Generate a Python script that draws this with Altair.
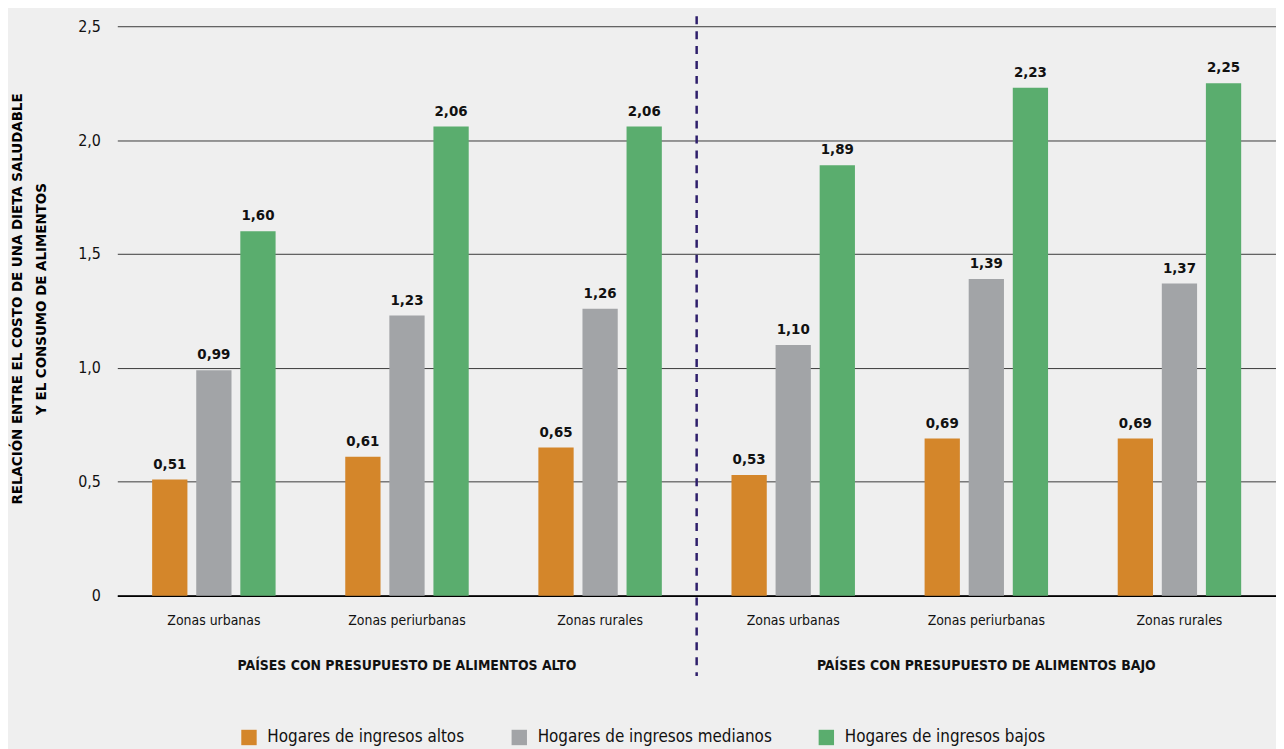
import altair as alt
import pandas as pd

zonas = ["Zonas urbanas", "Zonas periurbanas", "Zonas rurales"]
grupos = ["PAÍSES CON PRESUPUESTO DE ALIMENTOS ALTO", "PAÍSES CON PRESUPUESTO DE ALIMENTOS BAJO"]
series = ["Hogares de ingresos altos", "Hogares de ingresos medianos", "Hogares de ingresos bajos"]
altos = [0.51, 0.61, 0.65, 0.53, 0.69, 0.69]
medianos = [0.99, 1.23, 1.26, 1.10, 1.39, 1.37]
bajos = [1.60, 2.06, 2.06, 1.89, 2.23, 2.25]
colores = ["#d4862a", "#a2a4a7", "#5aad6e"]
y_ticks = [0, 0.5, 1.0, 1.5, 2.0, 2.5]
y_domain = [0, 2.5]

FONT = "DejaVu Sans Condensed, DejaVu Sans, sans-serif"

cats = [f"{g}|{z}" for g in range(len(grupos)) for z in zonas]
rows = []
for i, c in enumerate(cats):
    for s, vals in zip(series, [altos, medianos, bajos]):
        rows.append({"cat": c, "serie": s, "valor": vals[i]})
df = pd.DataFrame(rows)

yscale = alt.Scale(domain=y_domain, nice=False, zero=True)

x_enc = alt.X("cat:N", sort=cats,
              scale=alt.Scale(paddingInner=0, paddingOuter=0),
              axis=alt.Axis(title=None, labelExpr="split(datum.label, '|')[1]",
                            labelAngle=0, labelFontSize=14, labelPadding=18,
                            ticks=False, domain=True, domainColor="#000000",
                            domainWidth=2, labelColor="#111111", labelFont=FONT))
xo_enc = alt.XOffset("serie:N", sort=series,
                     scale=alt.Scale(paddingInner=0.2, paddingOuter=0.79))

bars = alt.Chart(df).mark_bar().encode(
    x=x_enc,
    xOffset=xo_enc,
    y=alt.Y("valor:Q", scale=yscale,
            axis=alt.Axis(values=y_ticks,
                          title=["RELACIÓN ENTRE EL COSTO DE UNA DIETA SALUDABLE",
                                 "Y EL CONSUMO DE ALIMENTOS"],
                          labelExpr="datum.value == 0 ? '0' : replace(format(datum.value, '.1f'), '.', ',')",
                          labelFontSize=16, labelPadding=17, ticks=False, domain=False,
                          grid=True, gridColor="#3a3a3a", gridWidth=1,
                          titleFontSize=15, titleFontWeight="bold", titleFont=FONT,
                          titleX=-108, titleY=274, titleAlign="center",
                          titleBaseline="top", titleLineHeight=24,
                          labelColor="#111111", labelFont=FONT)),
    color=alt.Color("serie:N", sort=series,
                    scale=alt.Scale(domain=series, range=colores),
                    legend=alt.Legend(title=None, orient="none", direction="horizontal",
                                      legendX=124, legendY=707, symbolType="square",
                                      symbolSize=240, symbolStrokeWidth=0,
                                      labelFontSize=17, labelOffset=10,
                                      columnPadding=46, labelFont=FONT,
                                      labelColor="#111111", labelLimit=400)),
)

labels = alt.Chart(df).transform_calculate(
    lab="replace(format(datum.valor, '.2f'), '.', ',')"
).mark_text(baseline="bottom", dy=-8, fontSize=15, fontWeight="bold",
            font=FONT, color="#111111").encode(
    x=alt.X("cat:N", sort=cats),
    xOffset=alt.XOffset("serie:N", sort=series),
    y=alt.Y("valor:Q", scale=yscale),
    text="lab:N",
)

gdf = pd.DataFrame({"cat": [cats[1], cats[4]], "grupo": grupos})
gtitles = alt.Chart(gdf).mark_text(fontSize=14, fontWeight="bold", font=FONT,
                                   color="#111111", baseline="middle").encode(
    x=alt.X("cat:N", sort=cats, bandPosition=0.5),
    y=alt.value(644),
    text="grupo:N",
)

rdf = pd.DataFrame({"cat": [cats[3]]})
sep = alt.Chart(rdf).mark_rule(color="#2e1f6b", strokeWidth=2.5,
                               strokeDash=[8, 7]).encode(
    x=alt.X("cat:N", sort=cats, bandPosition=0),
    y=alt.value(-10),
    y2=alt.value(654),
)

chart = alt.layer(bars, labels, gtitles, sep).properties(
    width=1166, height=573,
    autosize=alt.AutoSizeParams(type="none"),
    padding={"left": 110, "top": 16, "right": 0, "bottom": 152},
    background="#efefef",
).configure_view(stroke=None)

chart.save("out.html", embed_options={"renderer": "svg", "actions": False})
